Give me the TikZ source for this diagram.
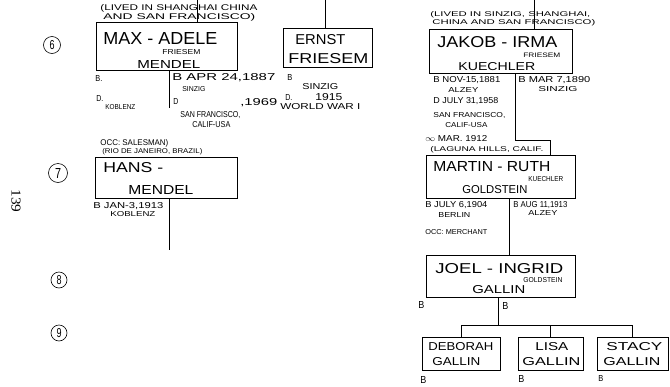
\documentclass[tikz,border=0pt]{standalone}
\usepackage{fontspec}
\setmainfont{Liberation Sans}
\newfontfamily\typed{Liberation Serif}
\usepackage{graphicx}
\newcommand\hw[3]{\resizebox{#1pt}{#2pt}{#3}}
\begin{document}
\begin{tikzpicture}[x=1pt,y=-1pt,line width=0.75pt,
  txt/.style={anchor=west,inner sep=0pt},
  box/.style={draw,inner sep=0pt},
  circ/.style={draw,circle,inner sep=0pt,line width=0.6pt}]
\useasboundingbox (0,0) rectangle (670,386);
% generation markers
\node[circ,minimum size=17pt] (c6) at (52,45) {\hw{5}{9}{6}};
\node[circ,minimum size=19pt] (c7) at (58,173) {\hw{6}{10}{7}};
\node[circ,minimum size=16pt] (c8) at (59,280) {\hw{5}{9}{8}};
\node[circ,minimum size=16pt] (c9) at (59,333) {\hw{5}{9}{9}};
\node[rotate=-90,inner sep=0pt] (pg) at (16,201) {\typed\hw{23}{9}{139}};
% boxes
\node[box,minimum width=141pt,minimum height=48pt] (max) at (166.5,46) {};
\node[box,minimum width=142pt,minimum height=41pt] (hans) at (166,177.5) {};
\node[box,minimum width=89pt,minimum height=39pt] (ernst) at (327.5,47.5) {};
\node[box,minimum width=143pt,minimum height=44pt] (jakob) at (500.5,51) {};
\node[box,minimum width=149pt,minimum height=43pt] (martin) at (500.5,176.5) {};
\node[box,minimum width=149pt,minimum height=42pt] (joel) at (500.5,276) {};
\node[box,minimum width=78pt,minimum height=33pt] (deb) at (461,353.5) {};
\node[box,minimum width=65pt,minimum height=33pt] (lisa) at (550.5,353.5) {};
\node[box,minimum width=71pt,minimum height=33pt] (stacy) at (632.5,353.5) {};
% connector coordinates
\coordinate (tl) at (197,0);
\coordinate (te) at (325,0);
\coordinate (tj) at (534,0);
\coordinate (dm) at (169,108);
\coordinate (dh) at (169,250);
\coordinate (j1) at (515,140);
\coordinate (j2) at (550,140);
\coordinate (mj) at (509,230);
\coordinate (jc) at (498,325);
% connectors
\draw (tl) -- (tl |- max.north);
\draw (te) -- (te |- ernst.north);
\draw (tj) -- (tj |- jakob.north);
\draw (max.south -| dm) -- (dm);
\draw (hans.south -| dh) -- (dh);
\draw (jakob.south -| j1) -- (j1) -- (j2) -- (j2 |- martin.north);
\draw (martin.south -| mj) -- (mj |- joel.north);
\draw (joel.south -| jc) -- (jc);
\draw (deb.north) -- (deb.north |- jc) -| (stacy.north);
\draw (lisa.north) -- (lisa.north |- jc);
% left family
\node[txt] (l1) at (100,8) {\hw{157}{6}{(LIVED IN SHANGHAI CHINA}};
\node[txt] (l2) at (103,17) {\hw{152}{6}{AND SAN FRANCISCO)}};
\node[txt] (l3) at (103,38) {\hw{114}{12}{MAX - ADELE}};
\node[txt] (l4) at (162,52) {\hw{38}{5}{FRIESEM}};
\node[txt] (l5) at (137,64) {\hw{63}{8}{MENDEL}};
\node[txt] (l6) at (95,78) {\hw{7}{6}{B.}};
\node[txt] (l7) at (172,78) {\hw{103}{7}{B APR 24,1887}};
\node[txt] (l8) at (182,89) {\hw{23}{5}{SINZIG}};
\node[txt] (l9) at (96,98) {\hw{7}{6}{D.}};
\node[txt] (l10) at (105,107) {\hw{30}{5}{KOBLENZ}};
\node[txt] (l11) at (173,101) {\hw{5}{6}{D}};
\node[txt] (l12) at (240,103) {\hw{37}{7}{,1969}};
\node[txt] (l13) at (180,115) {\hw{60}{6}{SAN FRANCISCO,}};
\node[txt] (l14) at (192,125) {\hw{38}{6}{CALIF-USA}};
\node[txt] (l15) at (100,143) {\hw{68}{6}{OCC: SALESMAN)}};
\node[txt] (l16) at (102,152) {\hw{100}{5}{(RIO DE JANEIRO, BRAZIL)}};
\node[txt] (l17) at (103,168) {\hw{60}{10}{HANS -}};
\node[txt] (l18) at (128,190) {\hw{65}{9}{MENDEL}};
\node[txt] (l19) at (93,206) {\hw{70}{6}{B JAN-3,1913}};
\node[txt] (l20) at (110,214) {\hw{45}{5}{KOBLENZ}};
% middle
\node[txt] (m1) at (295,40) {\hw{50}{10}{ERNST}};
\node[txt] (m2) at (288,59) {\hw{80}{10}{FRIESEM}};
\node[txt] (m3) at (287,77) {\hw{5}{6}{B}};
\node[txt] (m4) at (302,87) {\hw{36}{6}{SINZIG}};
\node[txt] (m5) at (285,97) {\hw{7}{6}{D.}};
\node[txt] (m6) at (315,97) {\hw{27}{7}{1915}};
\node[txt] (m7) at (280,107) {\hw{80}{6}{WORLD WAR I}};
% right family
\node[txt] (r1) at (430,15) {\hw{160}{5}{(LIVED IN SINZIG, SHANGHAI,}};
\node[txt] (r2) at (432,23) {\hw{163}{5}{CHINA AND SAN FRANCISCO)}};
\node[txt] (r3) at (437,42) {\hw{120}{11}{JAKOB - IRMA}};
\node[txt] (r4) at (523,55) {\hw{37}{4.5}{FRIESEM}};
\node[txt] (r5) at (458,67) {\hw{77}{8}{KUECHLER}};
\node[txt] (r6) at (433,80) {\hw{67}{6}{B NOV-15,1881}};
\node[txt] (r7) at (448,90) {\hw{30}{5}{ALZEY}};
\node[txt] (r8) at (518,80) {\hw{72}{6}{B MAR 7,1890}};
\node[txt] (r9) at (538,89) {\hw{39}{5}{SINZIG}};
\node[txt] (r10) at (433,101) {\hw{65}{6}{D JULY 31,1958}};
\node[txt] (r11) at (433,115) {\hw{72}{5}{SAN FRANCISCO,}};
\node[txt] (r12) at (445,125) {\hw{42}{5}{CALIF-USA}};
\node[txt] (r13) at (425,139) {\hw{62}{6}{$\infty$ MAR. 1912}};
\node[txt] (r14) at (430,150) {\hw{113}{5}{(LAGUNA HILLS, CALIF.}};
\node[txt] (r15) at (433,167) {\hw{117}{10}{MARTIN - RUTH}};
\node[txt] (r16) at (528,179) {\hw{35}{5}{KUECHLER}};
\node[txt] (r17) at (462,190) {\hw{65}{8}{GOLDSTEIN}};
\node[txt] (r18) at (425,205) {\hw{62}{6}{B JULY 6,1904}};
\node[txt] (r19) at (438,215) {\hw{32}{5}{BERLIN}};
\node[txt] (r20) at (425,232) {\hw{62}{5}{OCC: MERCHANT}};
\node[txt] (r21) at (513,205) {\hw{54}{6}{B AUG 11,1913}};
\node[txt] (r22) at (528,213) {\hw{29}{5}{ALZEY}};
\node[txt] (r23) at (435,269) {\hw{128}{10}{JOEL - INGRID}};
\node[txt] (r24) at (523,280) {\hw{39}{5}{GOLDSTEIN}};
\node[txt] (r25) at (472,290) {\hw{53}{8}{GALLIN}};
\node[txt] (r26) at (418,305) {\hw{6}{7}{B}};
\node[txt] (r27) at (502,306) {\hw{6}{7}{B}};
% children
\node[txt] (k1) at (428,347) {\hw{65}{8}{DEBORAH}};
\node[txt] (k2) at (432,362) {\hw{48}{8}{GALLIN}};
\node[txt] (k3) at (535,347) {\hw{33}{8}{LISA}};
\node[txt] (k4) at (522,362) {\hw{58}{8}{GALLIN}};
\node[txt] (k5) at (606,347) {\hw{56}{8}{STACY}};
\node[txt] (k6) at (603,362) {\hw{57}{8}{GALLIN}};
\node[txt] (k7) at (420,380) {\hw{6}{7}{B}};
\node[txt] (k8) at (518,379) {\hw{6}{7}{B}};
\node[txt] (k9) at (598,378) {\hw{5}{6}{B}};
\end{tikzpicture}
\end{document}
